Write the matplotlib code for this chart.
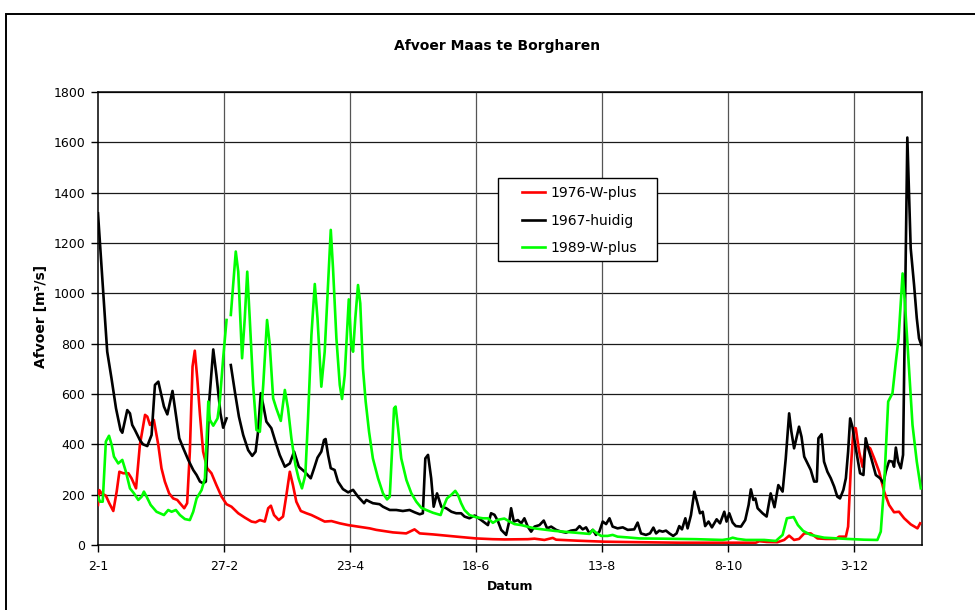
import numpy as np
import matplotlib
matplotlib.use("Agg")
import matplotlib.pyplot as plt
from matplotlib.patches import Rectangle

zwart_dag = [0, 1.6, 3.1, 4.1, 6, 8, 10, 10.8, 13, 14.2, 15.2, 16.4, 18.6, 20, 21.9, 23.8,
             25.3, 26.8, 27.8, 29.3, 30.8, 33.1, 34.6, 36.1, 37.9, 40.1, 42.3, 43.8, 45.3,
             46.7, 47.9, 48.5, 49.4, 51.2, 52.6, 54.4, 55.6, 57.1, 58, 59.0, 60.8, 62.6,
             64.5, 66.7, 68.5, 70, 71.1, 72.3, 73.4, 74.8, 77, 78.8, 80.7, 83, 85.2, 87.1,
             89.2, 91.8, 94.5, 96, 97.5, 99.2, 100.4, 101.1, 102.2, 103.4, 105.1, 106.6,
             108.8, 111.1, 113.3, 115.5, 118.2, 119.2, 120.7, 122.1, 125.1, 126.6, 129.6,
             132.5, 135.4, 138.4, 140.6, 142.9, 144.3, 145.4, 146.6, 148.0, 149.1, 150.6,
             152.5, 154.7, 157, 159.1, 161.3, 162.8, 165, 167.3, 170.2, 173.2, 174.6, 176.1,
             177.6, 179.1, 181.3, 182.8, 183.5, 184.7, 186.5, 188, 189.4, 190.9, 192.4,
             193.9, 196.1, 198, 199.5, 201.3, 203.5, 205.7, 207.9, 210.1, 212.4, 213.9,
             215.3, 216.8, 218.3, 219.8, 221.2, 222.7, 224.2, 225.7, 227.2, 228.6, 230.8,
             233.1, 235.3, 238.2, 239.7, 241.2, 243.4, 245.2, 246.7, 247.9, 249.3, 250.8,
             252.3, 253.8, 255.5, 257, 258.2, 259.4, 260.9, 261.9, 263.4, 264.9, 266.1,
             267.4, 268.6, 269.7, 271.2, 272.7, 274.8, 276.3, 278.2, 279.2, 280.4, 281.9,
             283.3, 285.6, 287.5, 289, 290, 291.1, 292, 293, 295.2, 297, 298.8, 300.5,
             302.2, 304.1, 305.5, 307, 308, 309.2, 311.4, 312.5, 313.7, 315.2, 316.6, 318.1,
             319.3, 320, 321.4, 322.5, 324, 325.5, 327, 328.4, 329.6, 331.1, 332.2, 333.2,
             334.1, 335.1, 336.6, 338.5, 340, 341, 342.1, 343.5, 345.5, 347.4, 348.9, 349.9,
             351.4, 352.9, 353.6, 354.4, 355.4, 356.6, 357.6, 358.4, 359.5, 361, 362.5,
             363.7, 364.7, 365.7]
zwart_afvoer = [1318, 1099, 900, 768, 662, 543, 457, 446, 536, 523, 477, 457, 417, 400, 393,
                437, 636, 649, 609, 550, 519, 612, 517, 424, 384, 338, 298, 278, 252, 245,
                252, 371, 570, 777, 675, 523, 466, 503, np.nan, 715, 609, 510, 437, 377, 354,
                371, 450, 603, 556, 490, 464, 411, 358, 311, 324, 371, 311, 291, 265, 305,
                347, 371, 417, 421, 358, 305, 298, 252, 222, 209, 219, 192, 166, 179, 172,
                166, 162, 152, 139, 139, 135, 139, 130, 122, 126, 344, 358, 265, 152, 205,
                152, 146, 132, 126, 126, 113, 106, 117, 99, 79, 126, 120, 96, 60, 40, 99,
                146, 93, 99, 86, 106, 73, 53, 73, 79, 97, 66, 73, 60, 53, 49, 57, 60, 75,
                62, 70, 46, 60, 40, 53, 93, 83, 106, 73, 66, 70, 60, 62, 89, 46, 40, 46, 69,
                46, 57, 53, 57, 46, 36, 46, 75, 62, 106, 66, 119, 212, 172, 126, 132, 75, 93,
                70, 102, 86, 132, 93, 126, 89, 75, 73, 99, 159, 221, 179, 185, 146, 126, 113,
                205, 150, 238, 212, 344, 523, 450, 384, 470, 430, 351, 324, 298, 252, 252,
                424, 440, 331, 291, 265, 232, 192, 185, 219, 265, 371, 503, 470, 384, 285,
                278, 424, 384, 344, 278, 265, 245, 291, 334, 331, 311, 387, 331, 305, 358,
                901, 1619, 1179, 1033, 901, 821, 795]

rood_dag = [0, 0.6, 1.6, 3.5, 5, 6.8, 8.3, 9.5, 11.2, 13.5, 14.9, 16.9, 18.6, 20.9, 21.9,
            23.1, 24.8, 26.8, 28.2, 29.7, 31.6, 33.4, 35.2, 36.4, 38.3, 39.6, 40.8, 42, 43,
            44.1, 45.3, 46.7, 48.5, 50.4, 52.6, 54.9, 57.1, 59.3, 62.3, 65.2, 68.2, 70, 71.9,
            74.1, 75.6, 76.8, 78.2, 80.3, 82.2, 83.7, 85.2, 86.6, 88.1, 90.1, 92.6, 94.8,
            97.8, 100.7, 103.7, 107.4, 111.1, 115.5, 120.7, 123.6, 131, 136.9, 139.2, 140.6,
            142.9, 148.8, 154.7, 160.6, 168, 175.4, 180.6, 190.9, 193.9, 198.3, 202, 203.5,
            213.1, 225, 240.5, 258.2, 280.4, 292.2, 293.7, 297, 301.8, 304.8, 307, 309.2,
            311.4, 313.7, 316.6, 319.6, 323.3, 327.8, 329.2, 332.2, 333.2, 334.4, 335.6,
            336.6, 338.1, 339.6, 341, 343, 344.8, 347, 349.2, 351.4, 353.6, 355.8, 358.1,
            361, 364, 365.2]
rood_afvoer = [159, 218, 205, 196, 166, 135, 212, 291, 285, 285, 265, 225, 397, 517, 510,
               477, 497, 397, 305, 252, 205, 185, 179, 166, 146, 166, 371, 709, 772, 662,
               517, 371, 305, 285, 238, 192, 162, 152, 126, 109, 93, 90, 99, 93, 146, 156,
               119, 99, 113, 199, 291, 238, 172, 135, 126, 119, 106, 93, 95, 86, 79, 73, 66,
               60, 50, 46, 56, 62, 46, 42, 37, 32, 26, 23, 22, 23, 25, 20, 28, 21, 17, 13,
               11, 9, 9, 9, 15, 12, 11, 20, 37, 20, 24, 46, 46, 26, 24, 24, 33, 33, 73, 305,
               464, 464, 371, 311, 397, 384, 344, 291, 212, 159, 130, 132, 106, 82, 66, 86]

groen_dag = [0, 0.9, 2.1, 3.5, 4.9, 6.1, 7.1, 9, 10.8, 12.4, 14.2, 16, 17.9, 19.4, 20.4, 21.6,
             23.4, 26, 29.3, 31.2, 32.7, 34.6, 36.4, 38.6, 40.8, 42.3, 43.8, 46, 47.5, 49,
             49.7, 51.2, 53.1, 54.1, 55.6, 57.1, 58, 59, 61.2, 62.3, 64, 65.2, 66.3, 67.4,
             68.9, 70.4, 71.9, 73.4, 75.1, 76.3, 77.8, 79.2, 81.2, 83, 84.4, 85.9, 87.7, 89.1,
             90.6, 92.1, 93.3, 94.8, 96.3, 97.5, 99.2, 100.7, 102.2, 103.4, 104.4, 105.9,
             107.4, 108.4, 109.6, 111.4, 112.5, 113.3, 114.3, 115.5, 116.5, 117.7, 118.9,
             120.4, 122.1, 124.4, 126.6, 128.4, 129.6, 130.6, 131.5, 132.2, 133.3, 134.7,
             137, 139.2, 141.4, 143.6, 145.8, 148.8, 152.2, 153.2, 155, 156.9, 158.7, 159.9,
             161.3, 162.8, 165, 168, 171, 173.2, 175.4, 177.6, 180.5, 182.8, 185, 188, 193.9,
             202.8, 211.6, 218.3, 219.8, 221.2, 223.5, 226.4, 228.6, 230.8, 235.3, 240.5,
             250.8, 265.6, 277.4, 280.4, 281.9, 284.1, 287.8, 295.9, 301.1, 304.1, 306, 309,
             310.9, 313.2, 316.6, 322.5, 332.9, 340.3, 346.2, 347.7, 349.2, 351, 352.9, 354.4,
             355.6, 357.4, 358.4, 359.8, 361.8, 363.7, 365.5]
groen_afvoer = [192, 172, 172, 411, 434, 397, 351, 324, 338, 291, 225, 205, 179, 192, 212,
                192, 159, 132, 119, 139, 132, 139, 119, 103, 99, 132, 185, 218, 265, 570,
                497, 474, 503, 570, 742, 894, np.nan, 914, 1166, 1086, 742, 901, 1086, 901,
                636, 457, 450, 636, 894, 795, 583, 543, 493, 616, 543, 424, 318, 265, 225,
                278, 503, 834, 1037, 901, 629, 768, 1033, 1252, 1099, 821, 636, 580, 675,
                976, 795, 768, 901, 1033, 960, 702, 570, 450, 344, 265, 205, 181, 192, 371,
                543, 550, 464, 344, 258, 205, 172, 148, 139, 128, 119, 146, 185, 199, 215,
                199, 166, 139, 119, 110, 106, 106, 88, 100, 105, 93, 83, 79, 66, 56, 49, 44,
                60, 49, 36, 36, 40, 33, 30, 26, 25, 23, 20, 24, 29, 24, 20, 20, 16, 40, 106,
                111, 79, 56, 40, 29, 24, 21, 20, 53, 238, 570, 603, 728, 821, 1079, 967, 768,
                477, 331, 225]

x_ticks = [0, 56, 112, 168, 224, 280, 336]
x_labels = ["2-1", "27-2", "23-4", "18-6", "13-8", "8-10", "3-12"]
y_ticks = list(range(0, 2000, 200))

plt.rcParams["font.family"] = ["DejaVu Sans"]

fig = plt.figure(figsize=(9.75, 6.10), dpi=100)
ax = fig.add_axes([0.1005, 0.1066, 0.8451, 0.7426])

# buitenrand van de grafiek
fig.patches.append(Rectangle((6 / 975, -0.05), 1.0, 0.977 + 0.05, transform=fig.transFigure,
                             fill=False, edgecolor="black", linewidth=1.4))

for y in y_ticks[1:]:
    ax.axhline(y, color="#1a1a1a", linewidth=0.9, zorder=1)
for x in x_ticks[1:]:
    ax.axvline(x, color="#555555", linewidth=0.9, zorder=1)

ax.plot(rood_dag, rood_afvoer, color="#ff0000", linewidth=1.9, label="1976-W-plus", zorder=3)
ax.plot(zwart_dag, zwart_afvoer, color="black", linewidth=1.9, label="1967-huidig", zorder=3)
ax.plot(groen_dag, groen_afvoer, color="#00ff00", linewidth=1.9, label="1989-W-plus", zorder=3)

ax.set_xlim(0, 366)
ax.set_ylim(0, 1800)
ax.set_xticks(x_ticks)
ax.set_xticklabels(x_labels)
ax.set_yticks(y_ticks)
ax.tick_params(axis="both", labelsize=9, length=5, width=1, direction="out", pad=4)
ax.tick_params(axis="x", pad=6)
for s in ax.spines.values():
    s.set_color("black")
    s.set_linewidth(1.1)

# legendakader apart, zoals in Excel
ax.add_patch(Rectangle((0.4854, 0.627), 0.193, 0.183, transform=ax.transAxes,
                       facecolor="white", edgecolor="black", linewidth=1.0, zorder=4))
leg = ax.legend(loc="upper left", bbox_to_anchor=(0.5146, 0.792), fontsize=10,
                frameon=False, handlelength=1.65, handletextpad=0.4, labelspacing=0.96,
                borderpad=0, borderaxespad=0)
leg.set_zorder(5)

fig.text(0.51, 1 - 46 / 610, "Afvoer Maas te Borgharen", ha="center", va="center",
         fontsize=10, fontweight="bold")
fig.text(41 / 975, 1 - 316 / 610, "Afvoer [m³/s]", ha="center", va="center",
         rotation=90, fontsize=10, fontweight="bold")
fig.text(510 / 975, 1 - 587 / 610, "Datum", ha="center", va="center",
         fontsize=9, fontweight="bold")

fig.savefig("out.png", dpi=100)
